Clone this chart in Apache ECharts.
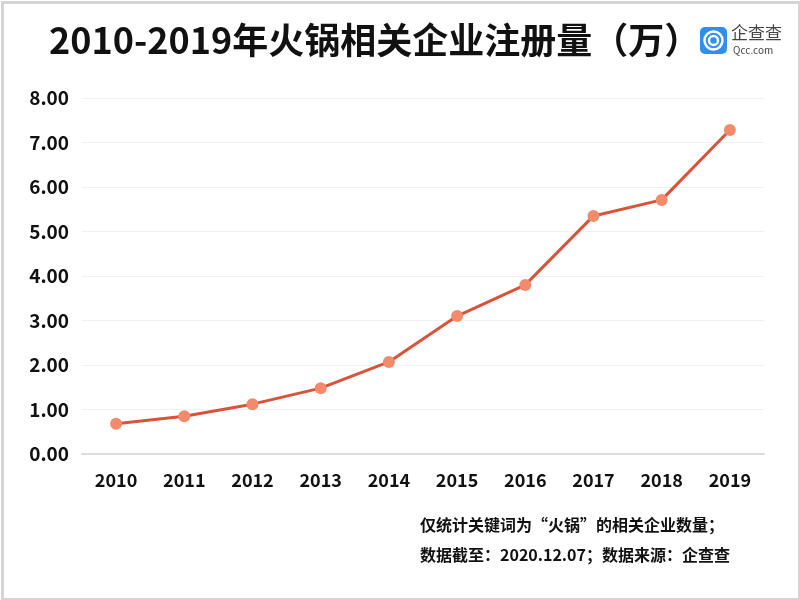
<!DOCTYPE html>
<html><head><meta charset="utf-8">
<script src="https://cdn.jsdelivr.net/npm/echarts@6/dist/echarts.min.js"></script>
<style>html,body{margin:0;padding:0;background:#fff}#c{width:800px;height:600px}</style>
</head><body><div id="c"></div>
<script>
var categories = ['2010','2011','2012','2013','2014','2015','2016','2017','2018','2019'];
var values = [0.68, 0.85, 1.12, 1.48, 2.07, 3.10, 3.80, 5.35, 5.71, 7.28];
var titleText = '2010-2019年火锅相关企业注册量（万）';
var note1 = '仅统计关键词为“火锅”的相关企业数量；';
var note2 = '数据截至：2020.12.07；数据来源：企查查';
var F = '"Noto Sans CJK SC", "Noto Sans", sans-serif';
var chart = echarts.init(document.getElementById('c'));
chart.setOption({
  backgroundColor: '#fff',
  animation: false,
  title: {
    text: titleText, left: 44, top: 17,
    textStyle: {fontFamily: F, fontSize: 36, fontWeight: 'bold', color: '#111'}
  },
  grid: {left: 82, right: 36, top: 98, bottom: 146},
  xAxis: {
    type: 'category', data: categories, boundaryGap: true,
    axisLine: {lineStyle: {color: '#dcdcdc', width: 2}},
    axisTick: {show: false},
    axisLabel: {fontFamily: F, fontSize: 18, fontWeight: 'bold', color: '#111', margin: 17}
  },
  yAxis: {
    type: 'value', min: 0, max: 8, interval: 1,
    axisLine: {show: false}, axisTick: {show: false},
    splitLine: {lineStyle: {color: '#f0f0f0', width: 1}},
    axisLabel: {fontFamily: F, fontSize: 19, fontWeight: 'bold', color: '#111', margin: 13,
      formatter: function (v) { return v.toFixed(2); }}
  },
  series: [{
    type: 'line', data: values,
    lineStyle: {color: '#d9533a', width: 3},
    symbol: 'circle', symbolSize: 12,
    itemStyle: {color: '#f28a6c'}
  }],
  graphic: [
    {type: 'rect', left: 0, top: 0, shape: {x: 1, y: 1, width: 797, height: 597},
      style: {fill: 'none', stroke: '#d4d4d4', lineWidth: 3}},
    {type: 'rect', shape: {x: 700, y: 27, width: 27, height: 27, r: 5}, style: {fill: '#2f8ef0'}},
    {type: 'circle', shape: {cx: 713.5, cy: 40.5, r: 9}, style: {fill: 'none', stroke: '#fff', lineWidth: 2.5}},
    {type: 'circle', shape: {cx: 713.5, cy: 40.5, r: 4.5}, style: {fill: 'none', stroke: '#fff', lineWidth: 2.5}},
    {type: 'text', left: 731, top: 24, style: {text: '企查查', fontFamily: F, fontSize: 17, fill: '#444'}},
    {type: 'text', left: 733, top: 45, style: {text: 'Qcc.com', fontFamily: F, fontSize: 10, fill: '#444'}},
    {type: 'text', left: 420, top: 517, style: {text: note1, fontFamily: F, fontSize: 16, fontWeight: 'bold', fill: '#111'}},
    {type: 'text', left: 420, top: 547, style: {text: note2, fontFamily: F, fontSize: 16, fontWeight: 'bold', fill: '#111'}}
  ]
});
</script></body></html>
